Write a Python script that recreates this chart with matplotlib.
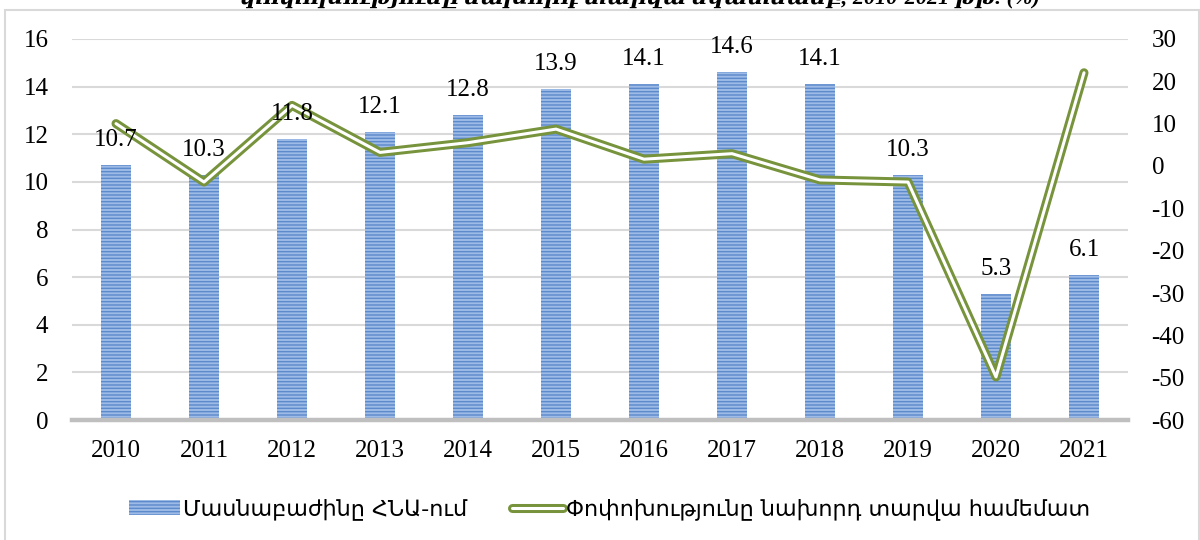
import numpy as np
import matplotlib
matplotlib.use("Agg")
import matplotlib.pyplot as plt
from matplotlib.lines import Line2D
from matplotlib.patches import Patch, Rectangle
from matplotlib.legend_handler import HandlerTuple

# data
years = ["2010", "2011", "2012", "2013", "2014", "2015",
         "2016", "2017", "2018", "2019", "2020", "2021"]
share_gdp = [10.7, 10.3, 11.8, 12.1, 12.8, 13.9, 14.1, 14.6, 14.1, 10.3, 5.3, 6.1]
change_prev = [10.0, -3.8, 14.3, 3.2, 5.5, 8.7, 1.6, 2.9, -3.3, -3.8, -49.8, 22.0]

bar_label = "Մասնաբաժինը ՀՆԱ-ում"
line_label = "Փոփոխությունը նախորդ տարվա համեմատ"
title_text = "փոփոխությունը նախորդ տարվա նկատմամբ, 2010-2021 թթ. (%)"

serif = ["Liberation Serif", "DejaVu Serif"]
plt.rcParams["font.family"] = serif
plt.rcParams["axes.unicode_minus"] = False
plt.rcParams["hatch.linewidth"] = 1.0

fig = plt.figure(figsize=(12, 5.4), dpi=100)
ax = fig.add_axes([0.06, 0.222, 0.88, 0.706])
ax2 = ax.twinx()

x = np.arange(len(years))
bar_face = "#9dbbe6"
bar_hatch = "#5c8acb"
ax.bar(x, share_gdp, width=0.33, color=bar_face, edgecolor=bar_hatch,
       linewidth=0, hatch="-----", zorder=2)

ax.set_xlim(-0.5, len(years) - 0.5)
ax.set_ylim(0, 16)
ax.set_yticks(np.arange(0, 17, 2))
ax.set_xticks(x)
ax.set_xticklabels(years)
ax.grid(axis="y", color="#d9d9d9", linewidth=1.5, zorder=0)
ax.set_axisbelow(True)
for s in ["top", "right", "left"]:
    ax.spines[s].set_visible(False)
ax.spines["bottom"].set_color("#bfbfbf")
ax.spines["bottom"].set_linewidth(3.2)
ax.spines["bottom"].set_zorder(3)
ax.tick_params(axis="both", length=0, labelsize=18)
ax.tick_params(axis="y", pad=17)
ax.tick_params(axis="x", pad=14)

green = "#77933c"
ax2.plot(x, change_prev, color=green, linewidth=6.5, solid_joinstyle="round",
         solid_capstyle="round", zorder=3)
ax2.plot(x, change_prev, color="white", linewidth=2.2, solid_joinstyle="round",
         solid_capstyle="round", zorder=4)
ax2.set_ylim(-60, 30)
ax2.set_yticks(np.arange(-60, 31, 10))
for s in ["top", "right", "left", "bottom"]:
    ax2.spines[s].set_visible(False)
ax2.tick_params(axis="y", length=0, labelsize=18, pad=17)

# bar value labels, drawn above the line
for xi, v in zip(x, share_gdp):
    ax2.annotate(f"{v:.1f}", (xi, v), xycoords=ax.transData, xytext=(0, 10),
                 textcoords="offset points", ha="center", va="bottom",
                 fontsize=18, color="black", zorder=6)

# legend
bar_handle = Patch(facecolor=bar_face, edgecolor=bar_hatch, linewidth=0, hatch="-----")
line_handle = (Line2D([], [], color=green, linewidth=6.5, solid_capstyle="round"),
               Line2D([], [], color="white", linewidth=2.2, solid_capstyle="round"))
fig.legend([bar_handle, line_handle], [bar_label, line_label],
           handler_map={tuple: HandlerTuple(ndivide=1, pad=0)},
           loc="center", bbox_to_anchor=(0.508, 0.057), ncol=2, frameon=False,
           prop={"family": ["DejaVu Sans"], "size": 16},
           handlelength=2.3, handleheight=0.65, handletextpad=0.15, columnspacing=2.0)

# title cut off at the top edge, as in the source image
fig.text(0.533, 1.005, title_text, ha="center", va="center", fontsize=16,
         style="italic", fontweight="bold", family=serif)
fig.patches.append(Rectangle((0.004, -0.01), 0.995, 0.991, transform=fig.transFigure,
                             fill=False, edgecolor="#d9d9d9", linewidth=1.5))

fig.savefig("out.png", dpi=100)
